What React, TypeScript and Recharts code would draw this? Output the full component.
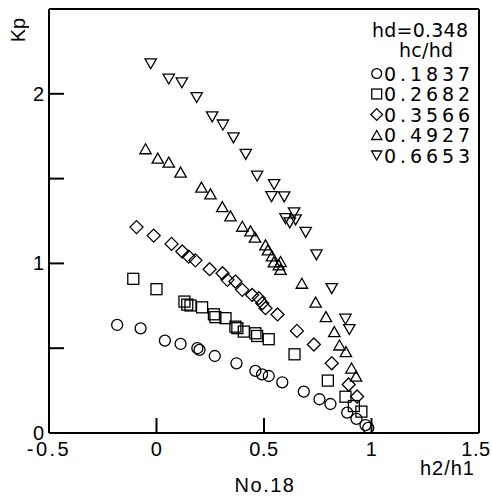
import { ScatterChart, Scatter, XAxis, YAxis, ReferenceLine, Legend } from 'recharts'

// h2/h1 vs Kp, hd=0.348, five hc/hd ratios
const hc1837: [number, number][] = [
  [-0.183, 0.637], [-0.074, 0.617], [0.039, 0.545], [0.112, 0.525], [0.19, 0.5], [0.2, 0.49],
  [0.271, 0.454], [0.372, 0.411], [0.46, 0.366], [0.491, 0.346], [0.522, 0.336], [0.585, 0.299],
  [0.685, 0.244], [0.758, 0.199], [0.809, 0.171], [0.887, 0.12], [0.93, 0.083], [0.972, 0.047], [0.985, 0.03],
]
const hc2682: [number, number][] = [
  [-0.108, 0.909], [0.0, 0.848], [0.13, 0.775], [0.143, 0.757], [0.158, 0.752], [0.212, 0.741],
  [0.267, 0.7], [0.274, 0.683], [0.321, 0.677], [0.367, 0.627], [0.376, 0.618], [0.406, 0.598],
  [0.46, 0.588], [0.468, 0.572], [0.522, 0.553], [0.642, 0.464], [0.797, 0.309], [0.879, 0.214],
  [0.918, 0.159], [0.953, 0.126],
]
const hc3566: [number, number][] = [
  [-0.093, 1.214], [-0.013, 1.164], [0.07, 1.115], [0.12, 1.07], [0.15, 1.04], [0.181, 1.018],
  [0.247, 0.966], [0.307, 0.942], [0.33, 0.903], [0.367, 0.893], [0.399, 0.844], [0.445, 0.814],
  [0.476, 0.795], [0.492, 0.765], [0.507, 0.736], [0.563, 0.699], [0.653, 0.602], [0.732, 0.522],
  [0.815, 0.411], [0.894, 0.286], [0.933, 0.215],
]
const hc4927: [number, number][] = [
  [-0.051, 1.676], [0.006, 1.621], [0.057, 1.597], [0.112, 1.538], [0.209, 1.45], [0.251, 1.41],
  [0.306, 1.335], [0.344, 1.28], [0.399, 1.219], [0.437, 1.192], [0.458, 1.155], [0.507, 1.109],
  [0.518, 1.08], [0.537, 1.044], [0.546, 1.009], [0.577, 1.011], [0.569, 0.991], [0.577, 0.965],
  [0.676, 0.883], [0.74, 0.772], [0.788, 0.686], [0.827, 0.598], [0.851, 0.519], [0.881, 0.48],
  [0.907, 0.383], [0.928, 0.335],
]
const hc6653: [number, number][] = [
  [-0.027, 2.177], [0.057, 2.087], [0.118, 2.065], [0.187, 1.978], [0.259, 1.864], [0.309, 1.816],
  [0.358, 1.74], [0.415, 1.643], [0.468, 1.515], [0.547, 1.465], [0.535, 1.394], [0.594, 1.392],
  [0.64, 1.298], [0.6, 1.264], [0.647, 1.257], [0.62, 1.239], [0.694, 1.183], [0.744, 1.05],
  [0.815, 0.851], [0.879, 0.671], [0.897, 0.61],
]

const seriesNames = ['0.1837', '0.2682', '0.3566', '0.4927', '0.6653']
const seriesMarks = ['circle', 'square', 'diamond', 'up', 'down']
const seriesData = [hc1837, hc2682, hc3566, hc4927, hc6653]

const xTicks = [-0.5, 0, 0.5, 1, 1.5]
const yTicks = [0, 0.5, 1, 1.5, 2, 2.5]
const yLabels = [0, 1, 2]

const FONT = '"Liberation Sans", Arial, sans-serif'
const LEG_FONT = '"DejaVu Sans", sans-serif'

function Mark({ kind, cx, cy, s = 1 }: { kind: string; cx: number; cy: number; s?: number }) {
  const common = { fill: 'none', stroke: '#000', strokeWidth: 1.3 }
  if (kind === 'circle') return <circle cx={cx} cy={cy} r={5.5 * s} {...common} />
  if (kind === 'square') {
    const h = 5.5 * s
    return <rect x={cx - h} y={cy - h} width={h * 2} height={h * 2} {...common} />
  }
  if (kind === 'diamond') {
    const h = 6.5 * s
    return <polygon points={`${cx},${cy - h} ${cx + h},${cy} ${cx},${cy + h} ${cx - h},${cy}`} {...common} />
  }
  const w = 5.7 * s
  const h = 5 * s
  if (kind === 'up') {
    return <polygon points={`${cx},${cy - h} ${cx + w},${cy + h} ${cx - w},${cy + h}`} {...common} />
  }
  return <polygon points={`${cx},${cy + h} ${cx + w},${cy - h} ${cx - w},${cy - h}`} {...common} />
}

const XTick = (props: any) => {
  const { x, y, payload } = props
  const v = payload.value
  return (
    <g>
      {v > -0.5 && v < 1.5 && <line x1={x} y1={y} x2={x} y2={y - 15} stroke="#000" strokeWidth={2} />}
      <text
        x={v === 1.5 ? x - 3 : x}
        y={y + 23}
        textAnchor="middle"
        fontSize={20}
        fontFamily={FONT}
        letterSpacing={v === -0.5 ? 2.5 : 0.5}
        fill="#000"
      >
        {String(v)}
      </text>
    </g>
  )
}

const YTick = (props: any) => {
  const { x, y, payload } = props
  const v = payload.value
  return (
    <g>
      {v > 0 && v < 2.5 && <line x1={x} y1={y} x2={x + 15} y2={y} stroke="#000" strokeWidth={2} />}
      {yLabels.includes(v) && (
        <text x={x - 5} y={y + 7} textAnchor="end" fontSize={20} fontFamily={FONT} fill="#000">
          {String(v)}
        </text>
      )}
    </g>
  )
}

const LegendBox = () => (
  <svg width={124} height={160} style={{ display: 'block' }}>
    <text x={106} y={25} textAnchor="end" fontSize={19} fontFamily={LEG_FONT} textLength={96} lengthAdjust="spacing">
      hd=0.348
    </text>
    <text x={37} y={45} fontSize={19} fontFamily={LEG_FONT} textLength={54} lengthAdjust="spacing">
      hc/hd
    </text>
    {seriesNames.map((n, i) => (
      <g key={n}>
        <Mark kind={seriesMarks[i]} cx={14.7} cy={61.5 + i * 20.5} s={0.9} />
        <text x={22} y={68.5 + i * 20.5} fontSize={19} fontFamily={LEG_FONT} textLength={86} lengthAdjust="spacing">
          {n}
        </text>
      </g>
    ))}
  </svg>
)

export default function App() {
  return (
    <div style={{ position: 'absolute', left: 0, top: 0, background: '#fff' }}>
      <ScatterChart width={492} height={499} margin={{ top: 9, right: 13, bottom: 0, left: 0 }}>
        <XAxis
          type="number"
          dataKey="x"
          domain={[-0.5, 1.5]}
          ticks={xTicks}
          interval={0}
          allowDataOverflow
          height={66}
          tickSize={0}
          tickMargin={0}
          tickLine={false}
          axisLine={{ stroke: '#000', strokeWidth: 2 }}
          tick={XTick}
          label={{
            content: (p: any) => {
              const vb = p.viewBox
              return (
                <g fontFamily={FONT} fontSize={20} fill="#000">
                  <text x={vb.x + vb.width - 4} y={475} textAnchor="end" letterSpacing={1}>h2/h1</text>
                  <text x={265} y={492} textAnchor="middle" letterSpacing={1.5}>No.18</text>
                </g>
              )
            },
          }}
        />
        <YAxis
          type="number"
          dataKey="y"
          domain={[0, 2.5]}
          ticks={yTicks}
          interval={0}
          allowDataOverflow
          width={49}
          tickSize={0}
          tickMargin={0}
          tickLine={false}
          axisLine={{ stroke: '#000', strokeWidth: 2 }}
          tick={YTick}
          label={{
            content: () => (
              <text x={25} y={30} transform="rotate(-90, 25, 30)" textAnchor="middle" fontSize={20} fontFamily={FONT} fill="#000">
                Kp
              </text>
            ),
          }}
        />
        <ReferenceLine y={2.5} stroke="#000" strokeWidth={2} />
        <ReferenceLine x={1.5} stroke="#000" strokeWidth={2} />
        {seriesData.map((d, i) => (
          <Scatter
            key={seriesNames[i]}
            name={seriesNames[i]}
            data={d.map(([x, y]) => ({ x, y }))}
            isAnimationActive={false}
            shape={(p: any) => <Mark kind={seriesMarks[i]} cx={p.cx} cy={p.cy} />}
          />
        ))}
        <Legend
          layout="horizontal"
          verticalAlign="middle"
          align="center"
          wrapperStyle={{ top: 12, left: 362, width: 124, height: 160 }}
          content={() => <LegendBox />}
        />
      </ScatterChart>
    </div>
  )
}
